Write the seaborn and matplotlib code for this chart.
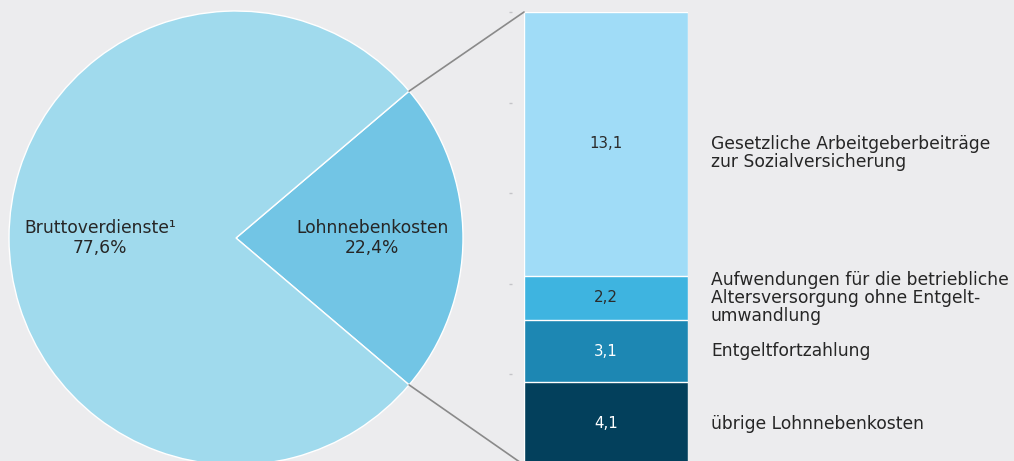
import numpy as np
import pandas as pd
import matplotlib.pyplot as plt
import seaborn as sns
from matplotlib.patches import ConnectionPatch

# %% Data
pie_labels = ["Lohnnebenkosten", "Bruttoverdienste\u00b9"]
pie_values = [22.4, 77.6]
pie_colors = ["#72c5e5", "#a0daed"]

bar_labels = ["übrige Lohnnebenkosten",
              "Entgeltfortzahlung",
              "Aufwendungen für die betriebliche\nAltersversorgung ohne Entgelt-\numwandlung",
              "Gesetzliche Arbeitgeberbeiträge\nzur Sozialversicherung"]
bar_values = [4.1, 3.1, 2.2, 13.1]
bar_colors = ["#03405c", "#1d87b3", "#3eb4e0", "#a0dcf7"]
value_colors = ["white", "white", "#2b2b2b", "#2b2b2b"]

# %% Style
sns.set_theme(style="white")
bg = "#ececee"
text_color = "#262626"
plt.rcParams['font.family'] = ['DejaVu Sans']
fs = 12.3

W, H = 1014, 461
fig = plt.figure(figsize=(W / 100, H / 100), dpi=100, facecolor=bg)


def px_axes(left, top, width, height):
    return fig.add_axes([left / W, 1 - (top + height) / H, width / W, height / H])


ax_pie = px_axes(9, 11, 454, 454)
ax_bar = px_axes(524, 12, 164, 453)

# %% Pie
half = pie_values[0] / 100 * 360 / 2
pie_text = [f"{l}\n{v:.1f}%".replace('.', ',') for l, v in zip(pie_labels, pie_values)]
wedges, texts = ax_pie.pie(pie_values, labels=pie_text, colors=pie_colors,
                           startangle=-half, counterclock=True, labeldistance=0.6,
                           wedgeprops={'edgecolor': 'white', 'linewidth': 1},
                           textprops={'color': text_color, 'fontsize': fs, 'linespacing': 1.12})
for t in texts:
    t.set_ha('center')
    t.set_va('center')
    t.set_multialignment('center')
ax_pie.set_xlim(-1, 1)
ax_pie.set_ylim(-1, 1)
ax_pie.set_aspect('equal')
ax_pie.axis('off')

# %% Stacked bar (cumulative overlay)
df = pd.DataFrame({'label': bar_labels, 'value': bar_values,
                   'color': bar_colors, 'tcolor': value_colors})
df['top'] = df['value'].cumsum()
df['mid'] = df['top'] - df['value'] / 2
total = df['top'].iloc[-1]

for i in reversed(range(len(df))):
    sns.barplot(x=["x"], y=[df['top'][i]], color=df['color'][i], saturation=1,
                width=1, edgecolor='white', linewidth=1, ax=ax_bar)

for i, row in df.iterrows():
    ax_bar.text(0, row['mid'], f"{row['value']:.1f}".replace('.', ','),
                ha='center', va='center', color=row['tcolor'], fontsize=10.8)
    dy = -9 if i == len(df) - 1 else 0
    ax_bar.annotate(row['label'], xy=(1.14, row['mid']), xycoords=ax_bar.get_yaxis_transform(),
                    xytext=(0, dy), textcoords='offset pixels', linespacing=1.0,
                    ha='left', va='center', color=text_color, fontsize=fs)

ax_bar.set_xlim(-0.5, 0.5)
ax_bar.set_ylim(0, total)
ax_bar.set_facecolor(bg)
ax_bar.set_xlabel('')
ax_bar.set_ylabel('')
ax_bar.set_xticks([])
ax_bar.set_yticks(np.arange(0, total + 0.01, 4.5))
ax_bar.spines['left'].set_position(('outward', 9))
for s in ax_bar.spines.values():
    s.set_visible(False)
ax_bar.tick_params(axis='y', left=True, length=2, width=1, color='#c4c4c8', labelleft=False)

# %% Connector lines
theta = np.deg2rad(half)
for sgn, ybar in [(1, total), (-1, 0)]:
    con = ConnectionPatch(xyA=(np.cos(theta), sgn * np.sin(theta)), coordsA=ax_pie.transData,
                          xyB=(-0.5, ybar), coordsB=ax_bar.transData,
                          color='#8a8a8a', lw=1.2)
    fig.add_artist(con)

fig.savefig('out.png', dpi=100, facecolor=bg)
